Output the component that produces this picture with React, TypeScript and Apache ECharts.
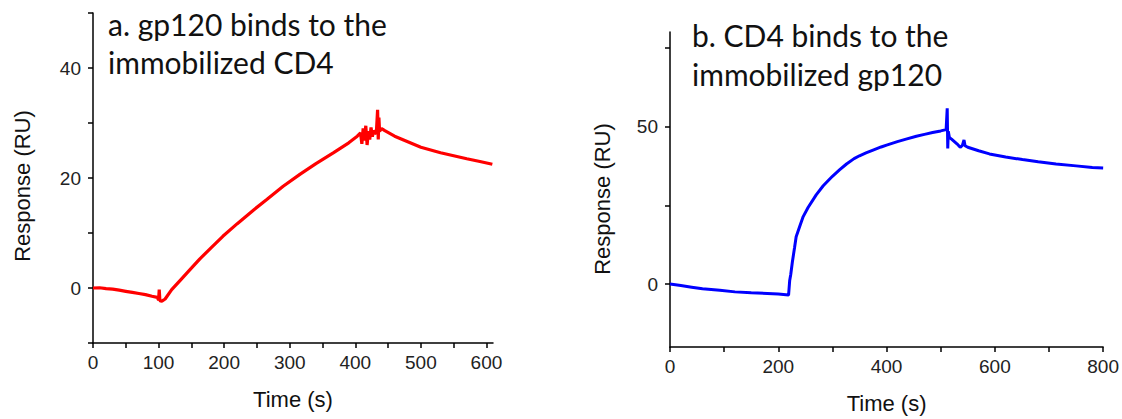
import React, { useEffect, useRef } from "react";
import * as echarts from "echarts";

// Panel a: gp120 binding to immobilized CD4
const timeA = [0, 10, 20, 30, 40, 50, 60, 70, 80, 90, 98, 100, 101, 102, 105, 110, 120, 133, 150, 163, 180, 198, 220, 245, 265, 290, 316, 340, 367, 390, 403, 408, 410, 412, 414, 416, 418, 420, 422, 424, 426, 428, 432, 434, 435, 436, 437, 440, 445, 460, 480, 500, 530, 570, 590, 609];
const respA = [0, 0.05, -0.1, -0.2, -0.4, -0.6, -0.8, -1.0, -1.2, -1.5, -1.7, -2.2, -0.3, -2.3, -2.4, -2.0, -0.3, 1.4, 3.6, 5.3, 7.3, 9.4, 11.7, 14.2, 16.1, 18.5, 20.7, 22.6, 24.6, 26.4, 27.6, 28.2, 26.2, 29.0, 26.8, 29.5, 26.0, 28.5, 27.0, 29.2, 27.5, 28.6, 28.0, 32.4, 27.0, 31.0, 28.5, 29.0, 28.6, 27.6, 26.6, 25.6, 24.6, 23.5, 23.0, 22.5];

// Panel b: CD4 binding to immobilized gp120
const timeB = [0, 20, 40, 60, 92, 120, 150, 180, 200, 219, 220, 221, 223, 226, 230, 233, 240, 246, 255, 270, 283, 300, 313, 326, 340, 350, 362, 375, 390, 400, 420, 436, 455, 470, 485, 500, 510, 511, 512, 513, 514, 516, 520, 530, 536, 540, 543, 545, 550, 570, 590, 620, 651, 680, 713, 750, 780, 800];
const respB = [0, -0.5, -1.0, -1.5, -2.0, -2.5, -2.8, -3.0, -3.2, -3.5, -3.5, 1.0, 3.0, 7.0, 11.5, 15.0, 18.5, 21.4, 24.3, 28.3, 31.2, 34.2, 36.2, 38.1, 39.8, 40.7, 41.6, 42.5, 43.5, 44.1, 45.2, 46.0, 46.9, 47.5, 48.1, 48.6, 49.0, 49.0, 55.8, 43.0, 48.5, 46.5, 46.0, 44.5, 43.4, 44.0, 45.7, 43.9, 43.4, 42.3, 41.3, 40.3, 39.5, 38.8, 38.1, 37.5, 37.0, 36.8];

const xTicksA = [0, 50, 100, 150, 200, 250, 300, 350, 400, 450, 500, 550, 600];
const xLabelsA = [0, 100, 200, 300, 400, 500, 600];
const yTicksA = [-10, 0, 10, 20, 30, 40, 50];
const yLabelsA = [0, 20, 40];

const xTicksB = [0, 100, 200, 300, 400, 500, 600, 700, 800];
const xLabelsB = [0, 200, 400, 600, 800];
const yTicksB = [0, 25, 50, 75];
const yLabelsB = [0, 50];

const titleA = ["a. gp120 binds to the", "immobilized CD4"];
const titleB = ["b. CD4 binds to the", "immobilized gp120"];
const xName = "Time (s)";
const yName = "Response (RU)";

const AXIS_FONT = "'Liberation Sans', Arial, sans-serif";
const TITLE_FONT = "Lato, 'Open Sans', sans-serif";

function valueAxis(
  gridIndex: number,
  min: number,
  max: number,
  ticks: number[],
  labels: number[],
  isX: boolean,
  name?: string
) {
  return {
    type: "value",
    gridIndex,
    min,
    max,
    name: name || "",
    nameLocation: "middle",
    nameGap: 45,
    nameTextStyle: { fontFamily: AXIS_FONT, fontSize: 22, color: "#111" },
    axisLine: { show: true, onZero: false, lineStyle: { color: "#000", width: 1.5 } },
    axisTick: { show: true, length: 5, customValues: ticks, lineStyle: { color: "#000", width: 1.5 } },
    axisLabel: {
      show: true,
      customValues: labels,
      margin: isX ? 10 : 12,
      fontFamily: AXIS_FONT,
      fontSize: 19,
      color: "#222",
    },
    splitLine: { show: false },
  };
}

export default function App() {
  const ref = useRef<HTMLDivElement>(null);
  useEffect(() => {
    if (!ref.current) return;
    const chart = echarts.init(ref.current, undefined, { renderer: "svg" });
    const dataA = timeA.map((t, i) => [t, respA[i]]);
    const dataB = timeB.map((t, i) => [t, respB[i]]);
    const titleText = (x: number, y: number, text: string) => ({
      type: "text",
      x,
      y,
      style: {
        text,
        fontFamily: TITLE_FONT,
        fontSize: 30,
        fill: "#111",
        textAlign: "left",
        textVerticalAlign: "middle",
      },
    });
    const yNameText = (x: number, y: number) => ({
      type: "text",
      x,
      y,
      rotation: Math.PI / 2,
      style: {
        text: yName,
        fontFamily: AXIS_FONT,
        fontSize: 22,
        fill: "#111",
        textAlign: "center",
        textVerticalAlign: "middle",
      },
    });
    chart.setOption({
      animation: false,
      backgroundColor: "#fff",
      grid: [
        { left: 93, top: 13, width: 400, height: 330 },
        { left: 670, top: 32, width: 434, height: 320 },
      ],
      xAxis: [
        valueAxis(0, 0, 610, xTicksA, xLabelsA, true, xName),
        valueAxis(1, 0, 800, xTicksB, xLabelsB, true, xName),
      ],
      yAxis: [
        valueAxis(0, -10, 50, yTicksA, yLabelsA, false),
        valueAxis(1, -20, 80, yTicksB, yLabelsB, false),
      ],
      graphic: [
        titleText(108, 24, titleA[0]),
        titleText(108, 62, titleA[1]),
        titleText(692, 35, titleB[0]),
        titleText(692, 74, titleB[1]),
        yNameText(22, 186),
        yNameText(602, 199),
      ],
      series: [
        {
          type: "line",
          xAxisIndex: 0,
          yAxisIndex: 0,
          data: dataA,
          showSymbol: false,
          lineStyle: { color: "#ff0000", width: 3.2 },
          itemStyle: { color: "#ff0000" },
        },
        {
          type: "line",
          xAxisIndex: 1,
          yAxisIndex: 1,
          data: dataB,
          showSymbol: false,
          lineStyle: { color: "#0000ff", width: 3 },
          itemStyle: { color: "#0000ff" },
        },
      ],
    });
    return () => chart.dispose();
  }, []);
  return (
    <div
      ref={ref}
      style={{ position: "absolute", left: 0, top: 0, width: 1122, height: 419 }}
    />
  );
}
